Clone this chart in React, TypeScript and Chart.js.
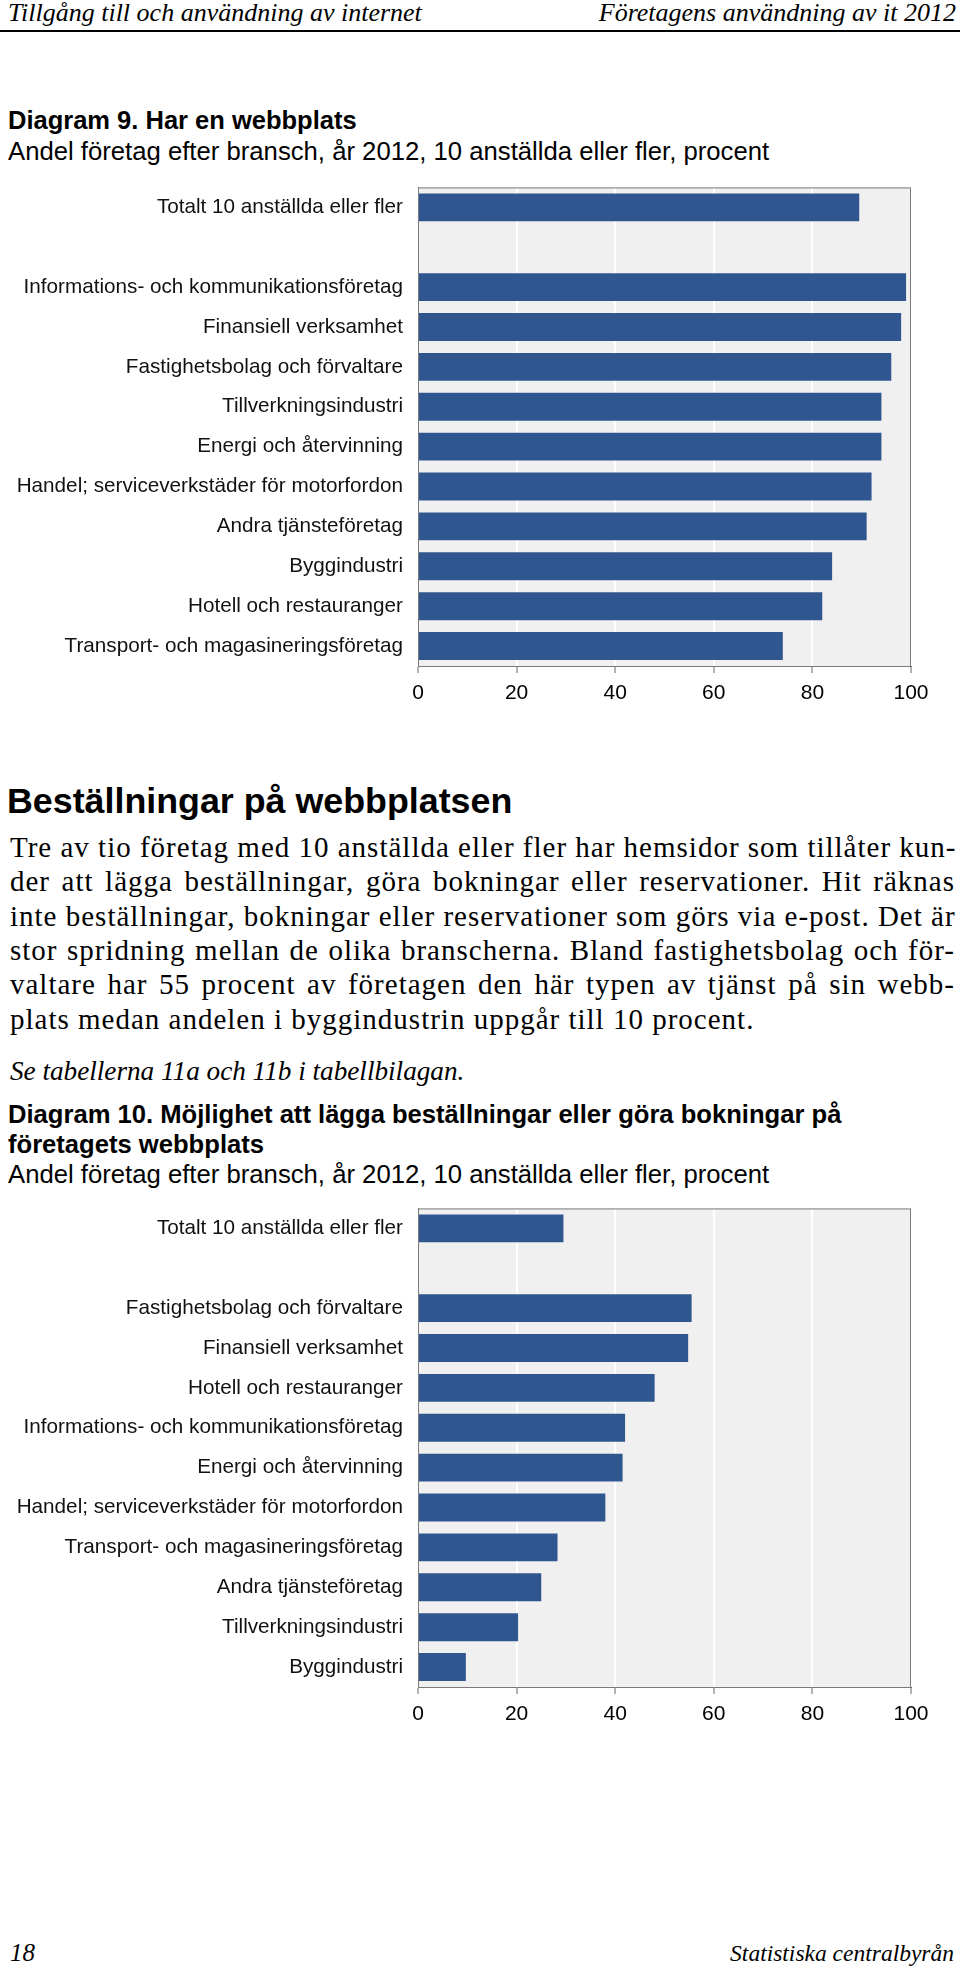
import React, { useEffect, useRef } from "react";
import { Chart, registerables } from "chart.js";

Chart.register(...registerables);

const categories1 = [
  "Totalt 10 anställda eller fler",
  "",
  "Informations- och kommunikationsföretag",
  "Finansiell verksamhet",
  "Fastighetsbolag och förvaltare",
  "Tillverkningsindustri",
  "Energi och återvinning",
  "Handel; serviceverkstäder för motorfordon",
  "Andra tjänsteföretag",
  "Byggindustri",
  "Hotell och restauranger",
  "Transport- och magasineringsföretag",
];
const values1 = [89.5, null, 99, 98, 96, 94, 94, 92, 91, 84, 82, 74];

const categories2 = [
  "Totalt 10 anställda eller fler",
  "",
  "Fastighetsbolag och förvaltare",
  "Finansiell verksamhet",
  "Hotell och restauranger",
  "Informations- och kommunikationsföretag",
  "Energi och återvinning",
  "Handel; serviceverkstäder för motorfordon",
  "Transport- och magasineringsföretag",
  "Andra tjänsteföretag",
  "Tillverkningsindustri",
  "Byggindustri",
];
const values2 = [29.5, null, 55.5, 54.8, 48, 42, 41.5, 38, 28.3, 25, 20.3, 9.7];

const axisMin = 0;
const axisMax = 100;
const axisStep = 20;

const paragraphLines = [
  "Tre av tio företag med 10 anställda eller fler har hemsidor som tillåter kun-",
  "der att lägga beställningar, göra bokningar eller reservationer. Hit räknas",
  "inte beställningar, bokningar eller reservationer som görs via e-post. Det är",
  "stor spridning mellan de olika branscherna. Bland fastighetsbolag och för-",
  "valtare har 55 procent av företagen den här typen av tjänst på sin webb-",
  "plats medan andelen i byggindustrin uppgår till 10 procent.",
];

const SANS = "'Liberation Sans', Arial, Helvetica, sans-serif";
const SERIF = "'Liberation Serif', 'Times New Roman', serif";
const BAR = "#30568f";

const framePlugin = {
  id: "frameBg",
  beforeDraw(chart: any) {
    const { ctx, chartArea } = chart;
    const { left, top, right, bottom } = chartArea;
    ctx.save();
    ctx.fillStyle = "#f0f0f0";
    ctx.fillRect(left, top, right - left, bottom - top);
    ctx.restore();
  },
  afterDatasetsDraw(chart: any) {
    const { ctx, chartArea } = chart;
    const { left, top, right, bottom } = chartArea;
    ctx.save();
    ctx.strokeStyle = "#7a7a7a";
    ctx.lineWidth = 1;
    ctx.strokeRect(left + 0.5, top + 0.5, right - left - 1, bottom - top);
    ctx.restore();
  },
};

function BarChart({ labels, values, top }: { labels: string[]; values: (number | null)[]; top: number }) {
  const ref = useRef<HTMLCanvasElement | null>(null);
  useEffect(() => {
    if (!ref.current) return;
    const chart = new Chart(ref.current, {
      type: "bar",
      data: {
        labels,
        datasets: [
          {
            data: values as any,
            backgroundColor: BAR,
            borderWidth: 0,
            barPercentage: 0.7,
            categoryPercentage: 1.0,
          },
        ],
      },
      options: {
        indexAxis: "y",
        responsive: false,
        animation: false,
        layout: { padding: { top: 27, right: 49, bottom: 24, left: 0 } },
        plugins: { legend: { display: false }, tooltip: { enabled: false } },
        scales: {
          x: {
            min: axisMin,
            max: axisMax,
            afterFit: (s: any) => {
              s.height = 40;
            },
            ticks: {
              stepSize: axisStep,
              color: "#000",
              padding: 8,
              font: { family: SANS, size: 21 },
            },
            grid: {
              color: "#ffffff",
              lineWidth: 2,
              tickColor: "#666",
              tickLength: 7,
              tickWidth: 1,
              drawTicks: true,
            },
            border: { display: true, color: "#666", width: 1 },
          },
          y: {
            afterFit: (s: any) => {
              s.width = 418;
            },
            ticks: {
              autoSkip: false,
              color: "#111",
              padding: 15,
              font: { family: SANS, size: 20.7 },
            },
            grid: { display: false, drawTicks: false },
            border: { display: true, color: "#7a7a7a", width: 1 },
          },
        },
      },
      plugins: [framePlugin],
    });
    return () => chart.destroy();
  }, []);
  return (
    <canvas
      ref={ref}
      width={960}
      height={570}
      style={{ position: "absolute", left: 0, top, width: 960, height: 570 }}
    />
  );
}

function Txt({
  top,
  left,
  lh,
  style,
  children,
}: {
  top: number;
  left: number;
  lh: number;
  style?: React.CSSProperties;
  children: React.ReactNode;
}) {
  return (
    <div
      style={{
        position: "absolute",
        top: top - lh / 2,
        left,
        lineHeight: `${lh}px`,
        whiteSpace: "nowrap",
        color: "#000",
        ...style,
      }}
    >
      {children}
    </div>
  );
}

export default function App() {
  return (
    <div
      style={{
        position: "absolute",
        left: 0,
        top: 0,
        width: 960,
        height: 1969,
        background: "#fff",
        overflow: "hidden",
      }}
    >
      {/* header */}
      <Txt top={13} left={8} lh={28} style={{ fontFamily: SERIF, fontStyle: "italic", fontSize: 26 }}>
        Tillgång till och användning av internet
      </Txt>
      <div
        style={{
          position: "absolute",
          top: 13 - 14,
          right: 4,
          lineHeight: "28px",
          fontFamily: SERIF,
          fontStyle: "italic",
          fontSize: 26,
          whiteSpace: "nowrap",
        }}
      >
        Företagens användning av it 2012
      </div>
      <div style={{ position: "absolute", top: 30, left: 0, width: 960, height: 2, background: "#000" }} />

      {/* Diagram 9 */}
      <Txt top={120} left={8} lh={30} style={{ fontFamily: SANS, fontWeight: "bold", fontSize: 25.5 }}>
        Diagram 9. Har en webbplats
      </Txt>
      <Txt top={151} left={8} lh={30} style={{ fontFamily: SANS, fontSize: 25.7 }}>
        Andel företag efter bransch, år 2012, 10 anställda eller fler, procent
      </Txt>
      <BarChart labels={categories1} values={values1} top={160} />

      {/* text section */}
      <Txt top={801} left={7} lh={40} style={{ fontFamily: SANS, fontWeight: "bold", fontSize: 35.8 }}>
        Beställningar på webbplatsen
      </Txt>
      {paragraphLines.map((line, i) => {
        const last = i === paragraphLines.length - 1;
        return (
          <div
            key={i}
            style={{
              position: "absolute",
              top: 847 + i * 34.3 - 17,
              left: 10,
              width: last ? undefined : 945,
              lineHeight: "34px",
              fontFamily: SERIF,
              fontSize: 29,
              letterSpacing: 1,
              whiteSpace: "nowrap",
              textAlign: last ? "left" : "justify",
              textAlignLast: last ? "left" : "justify",
            }}
          >
            {line}
          </div>
        );
      })}
      <Txt top={1071} left={10} lh={34} style={{ fontFamily: SERIF, fontStyle: "italic", fontSize: 27.2 }}>
        Se tabellerna 11a och 11b i tabellbilagan.
      </Txt>

      {/* Diagram 10 */}
      <Txt top={1114} left={8} lh={30} style={{ fontFamily: SANS, fontWeight: "bold", fontSize: 25.6 }}>
        Diagram 10. Möjlighet att lägga beställningar eller göra bokningar på
      </Txt>
      <Txt top={1144} left={8} lh={30} style={{ fontFamily: SANS, fontWeight: "bold", fontSize: 25.6 }}>
        företagets webbplats
      </Txt>
      <Txt top={1174} left={8} lh={30} style={{ fontFamily: SANS, fontSize: 25.7 }}>
        Andel företag efter bransch, år 2012, 10 anställda eller fler, procent
      </Txt>
      <BarChart labels={categories2} values={values2} top={1181} />

      {/* footer */}
      <Txt top={1953} left={10} lh={30} style={{ fontFamily: SERIF, fontStyle: "italic", fontSize: 25 }}>
        18
      </Txt>
      <div
        style={{
          position: "absolute",
          top: 1953 - 15,
          right: 6,
          lineHeight: "30px",
          fontFamily: SERIF,
          fontStyle: "italic",
          fontSize: 23.5,
          whiteSpace: "nowrap",
        }}
      >
        Statistiska centralbyrån
      </div>
    </div>
  );
}
